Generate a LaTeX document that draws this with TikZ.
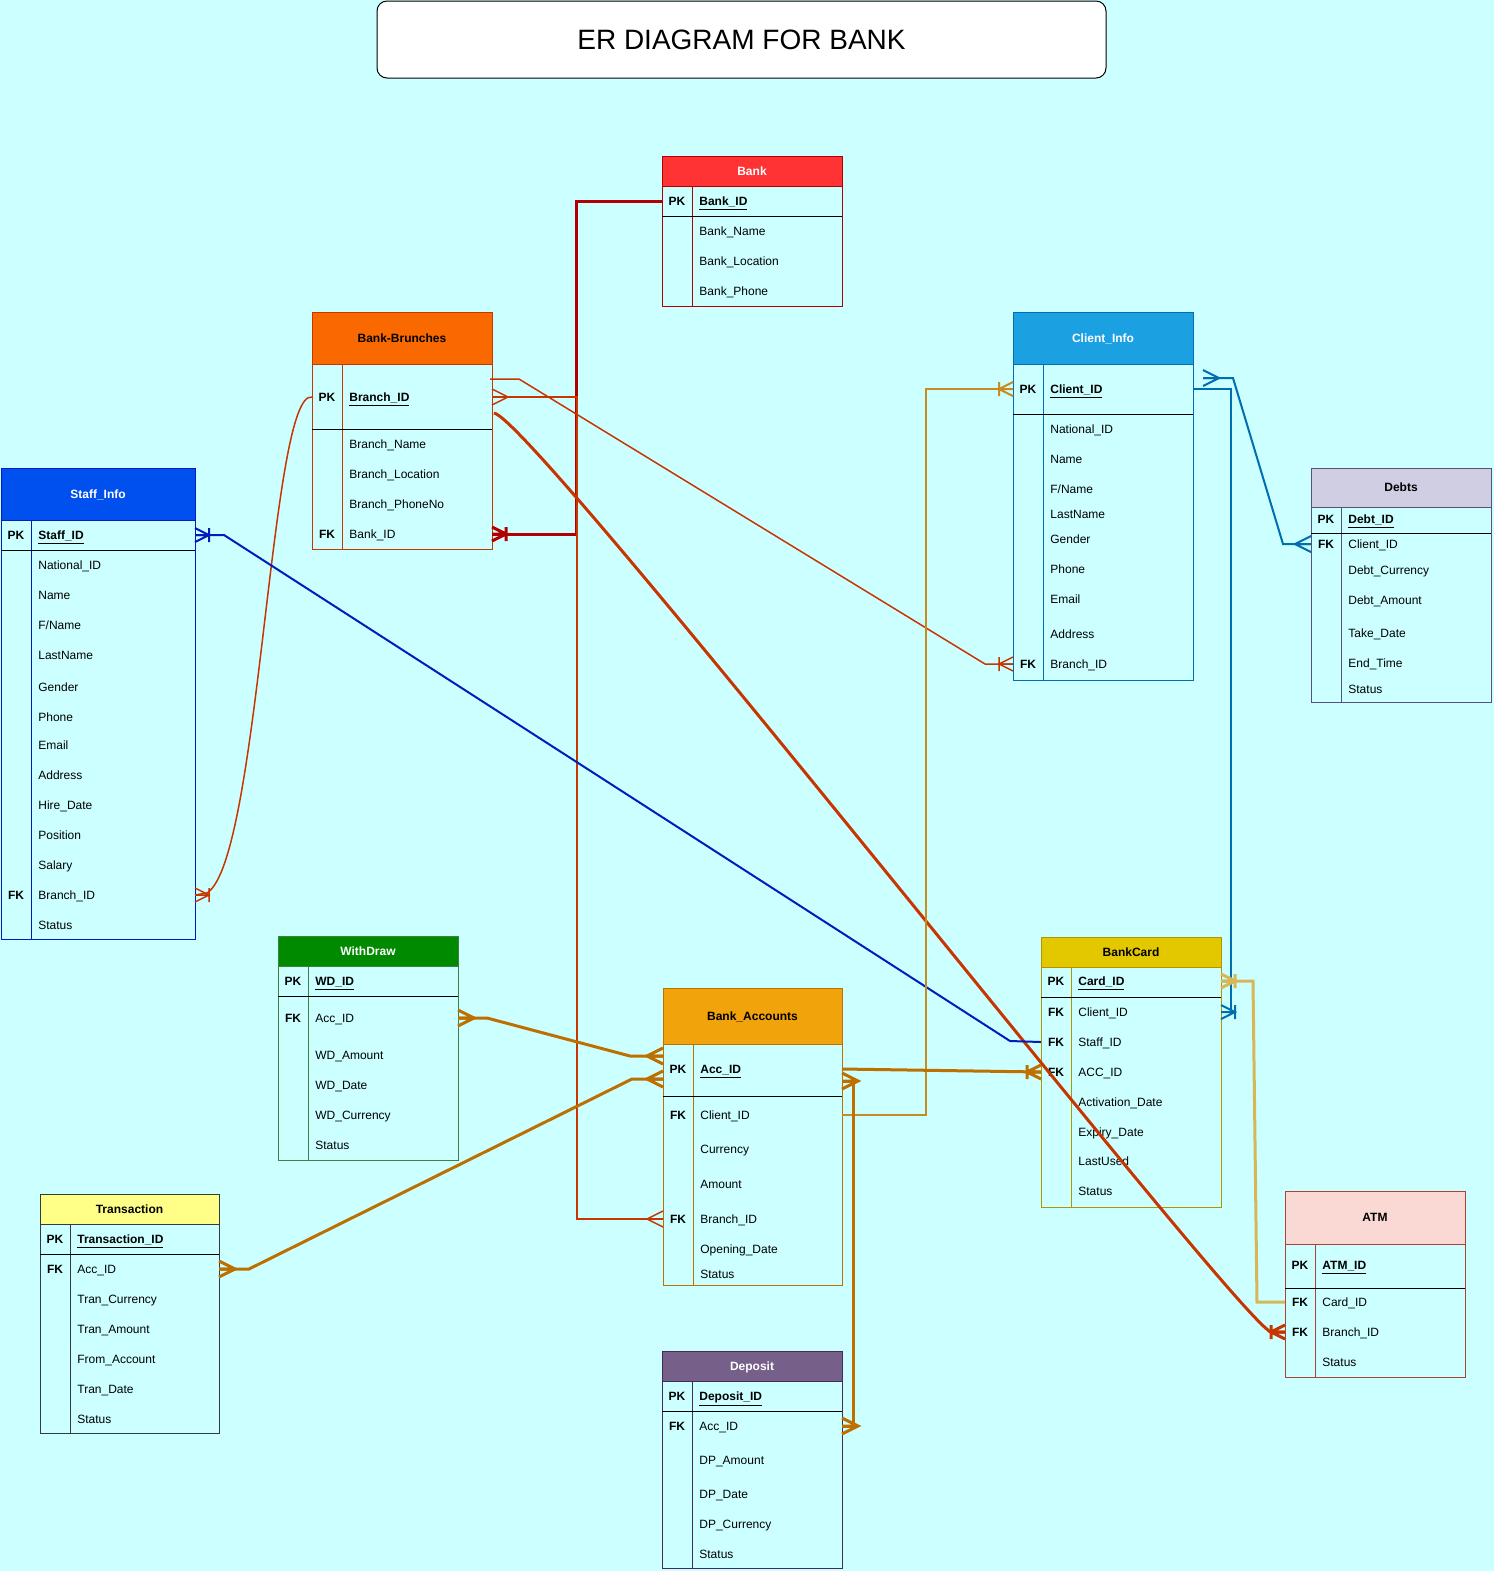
\documentclass[tikz,border=0pt]{standalone}
\usepackage{fontspec}
\setmainfont{Liberation Sans}
\usetikzlibrary{fit,calc}

\definecolor{bgc}{HTML}{CCFFFF}
\definecolor{bankH}{HTML}{FF3333}\definecolor{bankB}{HTML}{B20000}\colorlet{bankT}{white}
\definecolor{brH}{HTML}{FA6800}\definecolor{brB}{HTML}{C73500}\colorlet{brT}{black}
\definecolor{clH}{HTML}{1BA1E2}\definecolor{clB}{HTML}{006EAF}\colorlet{clT}{white}
\definecolor{dbH}{HTML}{D0CEE2}\definecolor{dbB}{HTML}{56517E}\colorlet{dbT}{black}
\definecolor{stH}{HTML}{0050EF}\definecolor{stB}{HTML}{001DBC}\colorlet{stT}{white}
\definecolor{wdH}{HTML}{008A00}\definecolor{wdB}{HTML}{3F7F3F}\colorlet{wdT}{white}
\definecolor{trH}{HTML}{FFFF88}\definecolor{trB}{HTML}{36393D}\colorlet{trT}{black}
\definecolor{acH}{HTML}{F0A30A}\definecolor{acB}{HTML}{BD7000}\colorlet{acT}{black}
\definecolor{dpH}{HTML}{76608A}\definecolor{dpB}{HTML}{432D57}\colorlet{dpT}{white}
\definecolor{cdH}{HTML}{E3C800}\definecolor{cdB}{HTML}{B09500}\colorlet{cdT}{black}
\definecolor{atH}{HTML}{FAD9D5}\definecolor{atB}{HTML}{AE4132}\colorlet{atT}{black}
\definecolor{lnGold}{HTML}{D6B656}
\definecolor{lnOrange}{HTML}{C98A1E}

% entity table: name, left, top, right, header bottom, separator, bottom, colour prefix, title
\newcommand\ertable[9]{%
  \node[tblbox, draw=#8B, fit={(#2,#3) (#4,#7)}] (#1) {};
  \node[tblbox, fill=#8H, draw=#8B, fit={(#2,#3) (#4,#5)}] (#1-h) {};
  \node[hdrtxt, text=#8T] (#1-t) at (#1-h.center) {#9};
  \draw[#8B, line width=0.5pt] (#2+30,#5) -- (#2+30,#7);
  \draw[sepline] (#2,#6) -- (#4,#6);
  \def\tabx{#2}}
% attribute row: node name, y, key, text
\newcommand\erow[4]{%
  \node[keytxt] at (\tabx+15,#2) {#3};
  \node[fldtxt] (#1) at (\tabx+37,#2) {#4};}

\begin{document}
\begin{tikzpicture}[x=0.5pt,y=-0.5pt,
  tblbox/.style={inner sep=0pt, outer sep=0pt, line width=0.5pt},
  hdrtxt/.style={inner sep=0pt, font=\fontsize{6}{7}\selectfont\bfseries,
    text height=4.3pt, text depth=0pt},
  sepline/.style={black, line width=0.5pt},
  keytxt/.style={inner sep=0pt, font=\fontsize{6}{7}\selectfont\bfseries,
    text height=4.3pt, text depth=0pt},
  fldtxt/.style={anchor=west, inner sep=0pt, font=\fontsize{6}{7}\selectfont,
    text height=4.3pt, text depth=0pt},
  crow/.pic={\draw (0,-8) -- (16,0) -- (0,8) (0,0) -- (16,0);},
  crowbar/.pic={\draw (0,-7) -- (14,0) -- (0,7) (0,0) -- (14,0) (14,-7) -- (14,7);},
  lnBank/.style={color=bankB, line width=1.5pt},
  lnBr/.style={color=brB, line width=0.75pt},
  lnBrW/.style={color=brB, line width=1.5pt},
  lnSt/.style={color=stB, line width=1pt},
  lnCl/.style={color=clB, line width=1pt},
  lnAc/.style={color=acB, line width=1.5pt},
  lnAcT/.style={color=lnOrange, line width=1pt},
  lnCd/.style={color=lnGold, line width=1.5pt},
]
\useasboundingbox (0,0) rectangle (1494,1571);
\fill[bgc] (0,0) rectangle (1494,1571);

% title
\node[draw=black, fill=white, rounded corners=5pt, line width=0.5pt, inner sep=0pt,
  fit={(377,1) (1106,78)}] (title) {};
\node[inner sep=0pt, font=\fontsize{14}{16}\selectfont, text height=10pt, text depth=0pt]
  (title-t) at (title.center) {ER DIAGRAM FOR BANK};

% Bank
\ertable{bank}{662}{156}{842}{186}{216}{306}{bank}{Bank}
\erow{bank-id}{201}{PK}{\underline{\textbf{Bank\_ID}}}
\erow{bank-name}{231}{}{Bank\_Name}
\erow{bank-loc}{261}{}{Bank\_Location}
\erow{bank-ph}{291}{}{Bank\_Phone}

% Bank branches
\ertable{br}{312}{312}{492}{364}{429}{549}{br}{Bank-Brunches}
\erow{br-id}{397}{PK}{\underline{\textbf{Branch\_ID}}}
\erow{br-name}{444}{}{Branch\_Name}
\erow{br-loc}{474}{}{Branch\_Location}
\erow{br-ph}{504}{}{Branch\_PhoneNo}
\erow{br-bank}{534}{FK}{Bank\_ID}

% Clients
\ertable{cl}{1013}{312}{1193}{364}{414}{680}{cl}{Client\_Info}
\erow{cl-id}{389}{PK}{\underline{\textbf{Client\_ID}}}
\erow{cl-nid}{429}{}{National\_ID}
\erow{cl-name}{459}{}{Name}
\erow{cl-fname}{489}{}{F/Name}
\erow{cl-lname}{514}{}{LastName}
\erow{cl-gender}{539}{}{Gender}
\erow{cl-phone}{569}{}{Phone}
\erow{cl-email}{599}{}{Email}
\erow{cl-addr}{634}{}{Address}
\erow{cl-branch}{664}{FK}{Branch\_ID}

% Debts
\ertable{db}{1311}{468}{1491}{507}{533}{702}{db}{Debts}
\erow{db-id}{519}{PK}{\underline{\textbf{Debt\_ID}}}
\erow{db-client}{544}{FK}{Client\_ID}
\erow{db-cur}{570}{}{Debt\_Currency}
\erow{db-amt}{600}{}{Debt\_Amount}
\erow{db-take}{633}{}{Take\_Date}
\erow{db-end}{663}{}{End\_Time}
\erow{db-st}{689}{}{Status}

% Staff
\ertable{st}{1}{468}{195}{520}{550}{939}{st}{Staff\_Info}
\erow{st-id}{535}{PK}{\underline{\textbf{Staff\_ID}}}
\erow{st-nid}{565}{}{National\_ID}
\erow{st-name}{595}{}{Name}
\erow{st-fname}{625}{}{F/Name}
\erow{st-lname}{655}{}{LastName}
\erow{st-gender}{687}{}{Gender}
\erow{st-phone}{717}{}{Phone}
\erow{st-email}{745}{}{Email}
\erow{st-addr}{775}{}{Address}
\erow{st-hire}{805}{}{Hire\_Date}
\erow{st-pos}{835}{}{Position}
\erow{st-sal}{865}{}{Salary}
\erow{st-branch}{895}{FK}{Branch\_ID}
\erow{st-st}{925}{}{Status}

% Withdrawals
\ertable{wd}{278}{936}{458}{966}{996}{1160}{wd}{WithDraw}
\erow{wd-id}{981}{PK}{\underline{\textbf{WD\_ID}}}
\erow{wd-acc}{1018}{FK}{Acc\_ID}
\erow{wd-amt}{1055}{}{WD\_Amount}
\erow{wd-date}{1085}{}{WD\_Date}
\erow{wd-cur}{1115}{}{WD\_Currency}
\erow{wd-st}{1145}{}{Status}

% Transactions
\ertable{tr}{40}{1194}{219}{1224}{1254}{1433}{tr}{Transaction}
\erow{tr-id}{1239}{PK}{\underline{\textbf{Transaction\_ID}}}
\erow{tr-acc}{1269}{FK}{Acc\_ID}
\erow{tr-cur}{1299}{}{Tran\_Currency}
\erow{tr-amt}{1329}{}{Tran\_Amount}
\erow{tr-from}{1359}{}{From\_Account}
\erow{tr-date}{1389}{}{Tran\_Date}
\erow{tr-st}{1419}{}{Status}

% Accounts
\ertable{ac}{663}{988}{842}{1044}{1096}{1285}{ac}{Bank\_Accounts}
\erow{ac-id}{1069}{PK}{\underline{\textbf{Acc\_ID}}}
\erow{ac-client}{1115}{FK}{Client\_ID}
\erow{ac-cur}{1149}{}{Currency}
\erow{ac-amt}{1184}{}{Amount}
\erow{ac-branch}{1219}{FK}{Branch\_ID}
\erow{ac-open}{1249}{}{Opening\_Date}
\erow{ac-st}{1274}{}{Status}

% Deposits
\ertable{dp}{662}{1351}{842}{1381}{1411}{1568}{dp}{Deposit}
\erow{dp-id}{1396}{PK}{\underline{\textbf{Deposit\_ID}}}
\erow{dp-acc}{1426}{FK}{Acc\_ID}
\erow{dp-amt}{1460}{}{DP\_Amount}
\erow{dp-date}{1494}{}{DP\_Date}
\erow{dp-cur}{1524}{}{DP\_Currency}
\erow{dp-st}{1554}{}{Status}

% Cards
\ertable{cd}{1041}{937}{1221}{967}{997}{1207}{cd}{BankCard}
\erow{cd-id}{981}{PK}{\underline{\textbf{Card\_ID}}}
\erow{cd-client}{1012}{FK}{Client\_ID}
\erow{cd-staff}{1042}{FK}{Staff\_ID}
\erow{cd-acc}{1072}{FK}{ACC\_ID}
\erow{cd-act}{1102}{}{Activation\_Date}
\erow{cd-exp}{1132}{}{Expiry\_Date}
\erow{cd-last}{1161}{}{LastUsed}
\erow{cd-st}{1191}{}{Status}

% ATMs
\ertable{at}{1285}{1191}{1465}{1244}{1288}{1377}{at}{ATM}
\erow{at-id}{1265}{PK}{\underline{\textbf{ATM\_ID}}}
\erow{at-card}{1302}{FK}{Card\_ID}
\erow{at-branch}{1332}{FK}{Branch\_ID}
\erow{at-st}{1362}{}{Status}

% ---- relationships ----
% bank -> branches
\draw[lnBank] (bank.west |- bank-id) -- (576,201) -- (576,534) -- (br.east |- br-bank);
\pic[lnBank] at (br.east |- br-bank) {crowbar};

% branches -> accounts
\draw[lnBr] (br.east |- br-id) -- (577,397) -- (577,1219) -- (ac.west |- ac-branch);
\pic[lnBr] at (br.east |- br-id) {crow};
\pic[lnBr, rotate=180] at (ac.west |- ac-branch) {crow};

% branches -> clients
\draw[lnBr] ($(br.east |- br-id)+(-2,-18)$) -- (519,379) -- (985,664) -- (cl.west |- cl-branch);
\pic[lnBr, rotate=180] at (cl.west |- cl-branch) {crowbar};

% branches -> ATMs
\draw[lnBrW] ($(br.east |- br-id)+(2,16)$) .. controls (535,420) and (1235,1318) .. (1271,1332)
  -- (at.west |- at-branch);
\pic[lnBrW, rotate=180] at (at.west |- at-branch) {crowbar};

% branches -> staff
\draw[lnBr] (br.west |- br-id) .. controls (270,390) and (260,860) .. (207,893)
  -- (st.east |- st-branch);
\pic[lnBr] at (st.east |- st-branch) {crowbar};

% staff -> cards
\draw[lnSt] (st.east |- st-id) -- (224,535) -- (1010,1041) -- (cd.west |- cd-staff);
\pic[lnSt] at (st.east |- st-id) {crowbar};

% clients -> cards
\draw[lnCl] (cl.east |- cl-id) -- (1231,389) -- (1231,1012) -- (cd.east |- cd-client);
\pic[lnCl] at (cd.east |- cd-client) {crowbar};

% clients -> debts
\coordinate (clDebt) at ($(cl.east |- cl-id)+(10,-11)$);
\draw[lnCl] (clDebt) -- (1233,378) -- (1283,544) -- (db.west |- db-client);
\pic[lnCl] at (clDebt) {crow};
\pic[lnCl, rotate=180] at (db.west |- db-client) {crow};

% accounts -> clients
\draw[lnAcT] (ac.east |- ac-client) -- (926,1115) -- (926,389) -- (cl.west |- cl-id);
\pic[lnAcT, rotate=180] at (cl.west |- cl-id) {crowbar};

% accounts -> cards
\draw[lnAc] (ac.east |- ac-id) -- (cd.west |- cd-acc);
\pic[lnAc, rotate=180] at (cd.west |- cd-acc) {crowbar};

% accounts -> deposits
\coordinate (acDep) at ($(ac.east |- ac-id)+(0,12)$);
\draw[lnAc] (acDep) -- (853,1081) -- (853,1426) -- (dp.east |- dp-acc);
\pic[lnAc] at (acDep) {crow};
\pic[lnAc] at (dp.east |- dp-acc) {crow};

% withdrawals -> accounts
\coordinate (acWd) at ($(ac.west |- ac-id)+(0,-13)$);
\draw[lnAc] (wd.east |- wd-acc) -- (487,1018) -- (630,1056) -- (acWd);
\pic[lnAc] at (wd.east |- wd-acc) {crow};
\pic[lnAc, rotate=180] at (acWd) {crow};

% transactions -> accounts
\coordinate (acTr) at ($(ac.west |- ac-id)+(0,10)$);
\draw[lnAc] (tr.east |- tr-acc) -- (249,1269) -- (632,1079) -- (acTr);
\pic[lnAc] at (tr.east |- tr-acc) {crow};
\pic[lnAc, rotate=180] at (acTr) {crow};

% cards -> ATMs
\draw[lnCd] (cd.east |- cd-id) -- (1253,981) -- (1257,1302) -- (at.west |- at-card);
\pic[lnCd] at (cd.east |- cd-id) {crowbar};
\end{tikzpicture}
\end{document}
